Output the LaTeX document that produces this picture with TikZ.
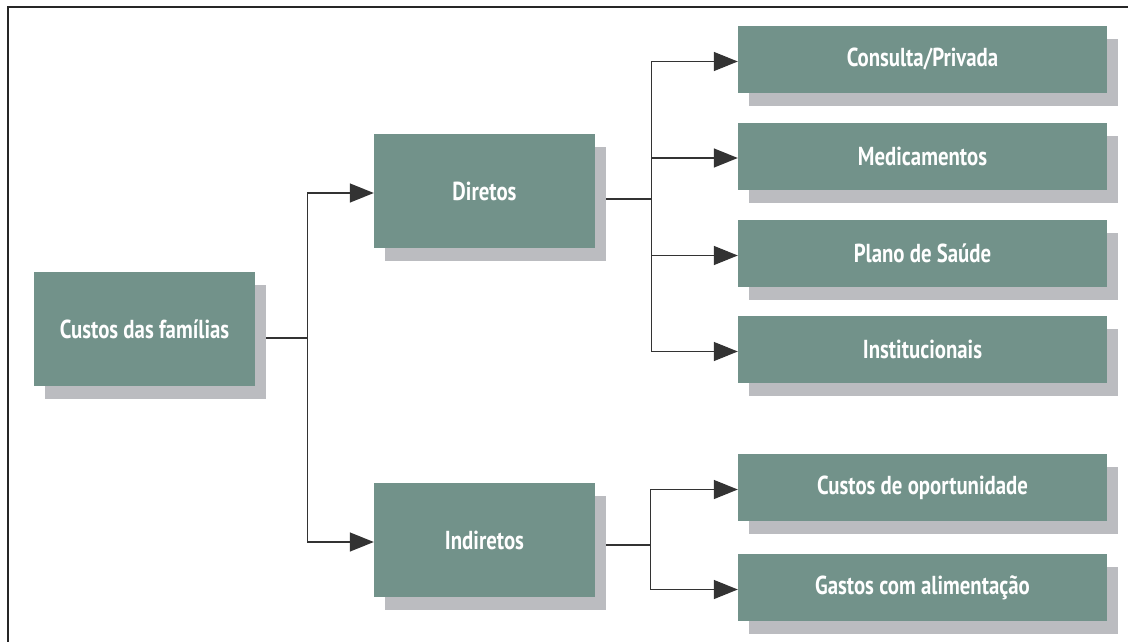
\documentclass[tikz,border=0pt]{standalone}
\usepackage{fontspec}
\setmainfont{PT Sans}[FakeStretch=0.8]
\usepackage{tikz}
\usetikzlibrary{arrows.meta,shadows}

\definecolor{boxgreen}{HTML}{72928A}
\definecolor{shadegray}{HTML}{BBBCC0}
\definecolor{linegray}{HTML}{333333}

\begin{document}
\begin{tikzpicture}[x=1pt,y=-1pt,
    box/.style={fill=boxgreen,text=white,font=\fontsize{26}{31}\selectfont\bfseries,
        inner sep=0pt,minimum width=221pt,minimum height=114pt,
        general shadow={fill=shadegray,shadow xshift=11pt,shadow yshift=-13pt}},
    leaf/.style={box,minimum width=369pt,minimum height=67pt},
    link/.style={draw=linegray,line width=1.4pt},
    arr/.style={link,-{Triangle[length=24pt,width=19pt]}}]
        \useasboundingbox (0,0) rectangle (1128,642);
        \draw[line width=2pt,draw=black!85] (8,642) -- (8,7) -- (1128,7);

        \node[box] at (144.5,329) (root){Custos das famílias};
        \node[box] at (484.5,191) (dir){Diretos};
        \node[box] at (484.5,540) (ind){Indiretos};

        \foreach \n/\y/\t in {cons/59.5/{Consulta/Privada},med/156/Medicamentos,
            plano/253.5/Plano de Saúde,inst/349.5/Institucionais,
            oport/487.5/Custos de oportunidade,gastos/587.5/Gastos com alimentação}
            \node[leaf] at (922.5,\y) (\n){\t};

        \draw[link] ([xshift=11pt,yshift=-9pt]root.east) -- ++(41,0) coordinate (rsplit);
        \draw[arr] (rsplit) |- ([yshift=-2pt]dir.west);
        \draw[arr] (rsplit) |- ([yshift=-2pt]ind.west);

        \draw[link] ([xshift=11pt,yshift=-8pt]dir.east) -- ++(45,0) coordinate (dsplit);
        \foreach \t in {cons,med,plano,inst}
            \draw[arr] (dsplit) |- ([yshift=-2pt]\t.west);

        \draw[link] ([xshift=11pt,yshift=-5pt]ind.east) -- ++(44,0) coordinate (isplit);
        \foreach \t in {oport,gastos}
            \draw[arr] (isplit) |- ([yshift=-2pt]\t.west);
    \end{tikzpicture}
\end{document}
